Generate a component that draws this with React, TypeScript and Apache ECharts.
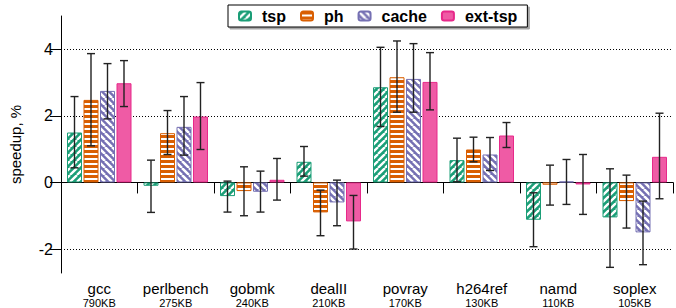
import React, { useEffect, useRef } from "react";
import * as echarts from "echarts";

const categories = ["gcc", "perlbench", "gobmk", "dealII", "povray", "h264ref", "namd", "soplex"];
const sizes = ["790KB", "275KB", "240KB", "210KB", "170KB", "130KB", "110KB", "105KB"];
const seriesNames = ["tsp", "ph", "cache", "ext-tsp"];

const tspVals = [1.5, -0.1, -0.41, 0.62, 2.86, 0.67, -1.12, -1.05];
const phVals = [2.48, 1.48, -0.26, -0.9, 3.16, 0.99, -0.07, -0.56];
const cacheVals = [2.75, 1.67, -0.28, -0.6, 3.11, 0.84, 0.03, -1.5];
const extVals = [2.98, 1.98, 0.08, -1.17, 3.02, 1.41, -0.06, 0.77];

const tspErrLow = [0.44, -0.9, -0.89, 0.19, 1.68, 0.02, -1.93, -2.55];
const tspErrHigh = [2.58, 0.67, 0.04, 1.08, 4.06, 1.33, -0.31, 0.41];
const phErrLow = [1.1, 0.84, -1.0, -1.6, 2.11, 0.62, -0.68, -1.37];
const phErrHigh = [3.87, 2.16, 0.47, -0.23, 4.25, 1.36, 0.52, 0.22];
const cacheErrLow = [1.91, 0.82, -0.89, -1.3, 2.11, 0.36, -0.66, -2.47];
const cacheErrHigh = [3.57, 2.58, 0.34, 0.07, 4.17, 1.35, 0.69, -0.56];
const extErrLow = [2.28, 0.99, -0.53, -2.0, 2.18, 1.05, -0.96, -0.49];
const extErrHigh = [3.66, 3.0, 0.72, -0.39, 3.9, 1.8, 0.84, 2.08];

const yTicks = [-2, 0, 2, 4];

const FONT = "'Liberation Sans', Arial, Helvetica, sans-serif";

function stripeTile(bg: string, kind: string) {
  const s = kind === "h" ? 5 : 7;
  const c = document.createElement("canvas");
  c.width = s;
  c.height = s;
  const g = c.getContext("2d") as CanvasRenderingContext2D;
  g.fillStyle = bg;
  g.fillRect(0, 0, s, s);
  g.fillStyle = "#ffffff";
  g.strokeStyle = "#ffffff";
  if (kind === "h") {
    g.fillRect(0, 3, s, 2);
  } else {
    g.lineWidth = kind === "/" ? 2.3 : 2.5;
    g.beginPath();
    for (const o of [-s, 0, s]) {
      if (kind === "/") {
        g.moveTo(o, s);
        g.lineTo(o + s, 0);
      } else {
        g.moveTo(o, 0);
        g.lineTo(o + s, s);
      }
    }
    g.stroke();
  }
  return { image: c as any, repeat: "repeat", imageWidth: s, imageHeight: s };
}

export default function App() {
  const ref = useRef<HTMLDivElement>(null);
  useEffect(() => {
    if (!ref.current) return;
    const chart = echarts.init(ref.current, undefined, { renderer: "svg" });

    const values = [tspVals, phVals, cacheVals, extVals];
    const lows = [tspErrLow, phErrLow, cacheErrLow, extErrLow];
    const highs = [tspErrHigh, phErrHigh, cacheErrHigh, extErrHigh];
    const borders = ["#1b9e77", "#d95f02", "#7570b3", "#e7298a"];
    const fills: any[] = [
      stripeTile("#1b9e77", "/"),
      stripeTile("#d95f02", "h"),
      stripeTile("#7570b3", "\\"),
      "#ef5ba5",
    ];

    const barWidth = 15;
    const step = 16.5;

    const barSeries = seriesNames.map((name, i) => {
      const s: any = {
        name,
        type: "bar",
        data: values[i],
        barWidth,
        barGap: "10%",
        itemStyle: {
          color: fills[i],
          borderColor: borders[i],
          borderWidth: 1,
        },
        z: 2,
      };
      if (i === 0) {
        s.markLine = {
          silent: true,
          symbol: "none",
          z: 1,
          label: { show: false },
          lineStyle: { color: "#000", type: [1, 2], width: 1 },
          data: yTicks.map((v) => ({ yAxis: v })),
        };
      }
      return s;
    });

    const errSeries = seriesNames.map((name, i) => ({
      name: name + "-err",
      type: "custom",
      z: 5,
      data: categories.map((_, c) => [c, lows[i][c], highs[i][c]]),
      encode: { x: 0, y: [1, 2] },
      renderItem: (params: any, api: any) => {
        const c = api.value(0);
        const lo = api.coord([c, api.value(1)]);
        const hi = api.coord([c, api.value(2)]);
        const x = lo[0] + (i - 1.5) * step;
        const hw = 4;
        const style = { stroke: "#222", lineWidth: 1.4 };
        return {
          type: "group",
          children: [
            { type: "line", shape: { x1: x, y1: lo[1], x2: x, y2: hi[1] }, style },
            { type: "line", shape: { x1: x - hw, y1: lo[1], x2: x + hw, y2: lo[1] }, style },
            { type: "line", shape: { x1: x - hw, y1: hi[1], x2: x + hw, y2: hi[1] }, style },
          ],
        };
      },
    }));

    chart.setOption({
      animation: false,
      textStyle: { fontFamily: FONT },
      grid: { left: 60, right: 3, top: 16, bottom: 34 },
      legend: {
        data: seriesNames,
        left: 228,
        top: 5,
        padding: [3, 10, 3, 10],
        borderColor: "#000",
        borderWidth: 1,
        backgroundColor: "#fff",
        shadowColor: "rgba(0,0,0,0.35)",
        shadowOffsetX: 2,
        shadowOffsetY: 2,
        shadowBlur: 1,
        itemWidth: 12,
        itemHeight: 9,
        itemGap: 14,
        textStyle: { fontFamily: FONT, fontWeight: "bold", fontSize: 16, color: "#000", padding: [0, 0, 0, 6] },
      },
      xAxis: {
        type: "category",
        data: categories,
        axisLine: { lineStyle: { color: "#000", width: 1 } },
        axisTick: { show: true, length: 11, lineStyle: { color: "#000" } },
        axisLabel: {
          margin: 8,
          interval: 0,
          formatter: (v: string, idx: number) => `{a|${v}}\n{b|${sizes[idx]}}`,
          rich: {
            a: { fontFamily: FONT, fontSize: 15, color: "#000", lineHeight: 15 },
            b: { fontFamily: FONT, fontSize: 11, color: "#000", lineHeight: 13 },
          },
        },
        splitLine: { show: false },
      },
      yAxis: {
        type: "value",
        min: -2.72,
        max: 5,
        name: "speedup, %",
        nameLocation: "middle",
        nameGap: 38,
        nameTextStyle: { fontFamily: FONT, fontSize: 15, color: "#000" },
        axisLine: { show: true, lineStyle: { color: "#000", width: 1 } },
        axisTick: { show: true, length: 11, customValues: yTicks, lineStyle: { color: "#000" } },
        axisLabel: { customValues: yTicks, fontFamily: FONT, fontSize: 16, color: "#000", margin: 8 },
        splitLine: { show: false },
      },
      series: [...barSeries, ...errSeries],
    });
    return () => chart.dispose();
  }, []);
  return <div ref={ref} style={{ position: "absolute", left: 0, top: 0, width: 676, height: 308 }} />;
}
